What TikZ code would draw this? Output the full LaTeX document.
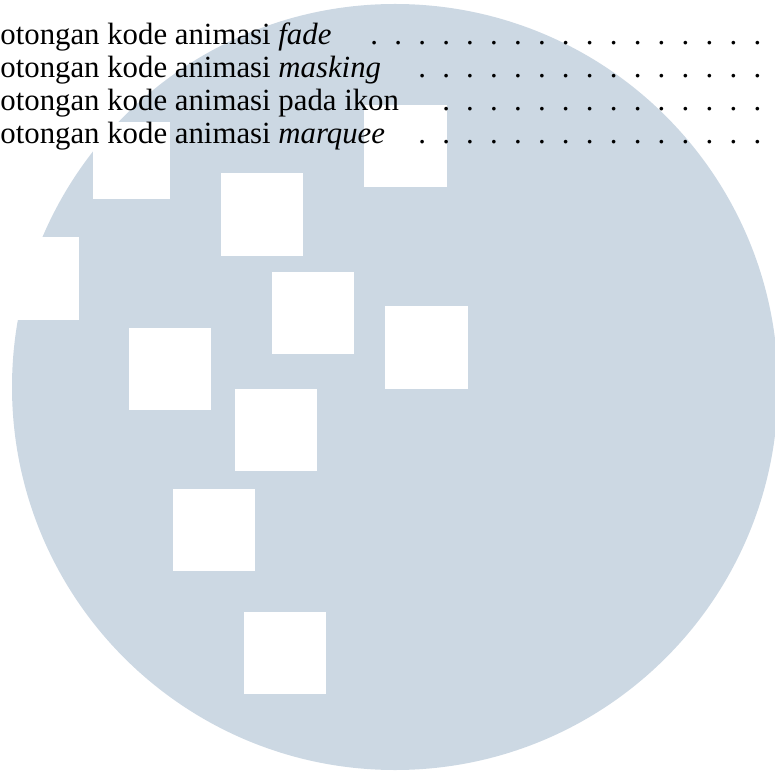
\documentclass[tikz,border=0pt]{standalone}
\usepackage{fontspec}
\setmainfont{Liberation Serif}
\usepackage{xcolor}
\usepackage{tikz}
\definecolor{logoblue}{RGB}{204,216,227}
\tikzset{
	hole/.style={fill=white},
	entry/.style={anchor=base west,inner sep=0pt,font=\fontsize{15.4}{16.5}\selectfont},
	leader/.style={anchor=base,inner sep=0pt,font=\fontsize{15.4}{16.5}\selectfont}
}

\begin{document}
\begin{tikzpicture}[x=0.5pt,y=-0.5pt]
	 \useasboundingbox (0,0) rectangle (774,774);
	 \fill[logoblue] (395,387) circle (191.5pt);
	 \fill[hole] (93,122) rectangle (170,199);
	 \fill[hole] (221,173) rectangle (303,256);
	 \fill[hole] (364,105) rectangle (447,187);
	 \fill[hole] (-3,237) rectangle (79,320);
	 \fill[hole] (272,272) rectangle (354,354);
	 \fill[hole] (385,306) rectangle (468,389);
	 \fill[hole] (129,328) rectangle (211,410);
	 \fill[hole] (235,389) rectangle (317,471);
	 \fill[hole] (173,489) rectangle (255,571);
	 \fill[hole] (244,612) rectangle (326,694);
	 \node[entry] (fade) at (0,44.7) {otongan kode animasi \textit{fade}};
	 \node[entry] (masking) at (0,77.7) {otongan kode animasi \textit{masking}};
	 \node[entry] (ikon) at (0,110.7) {otongan kode animasi pada ikon};
	 \node[entry] (marquee) at (0,143.7) {otongan kode animasi \textit{marquee}};
	 \foreach \k in {0,...,16}
		 \node[leader] (dotA\k) at (374.3+23.94*\k,44.7) {.};
	 \foreach \k in {2,...,16}
		 \node[leader] (dotB\k) at (374.3+23.94*\k,77.7) {.};
	 \foreach \k in {3,...,16}
		 \node[leader] (dotC\k) at (374.3+23.94*\k,110.7) {.};
	 \foreach \k in {2,...,16}
		 \node[leader] (dotD\k) at (374.3+23.94*\k,143.7) {.};
\end{tikzpicture}
\end{document}
